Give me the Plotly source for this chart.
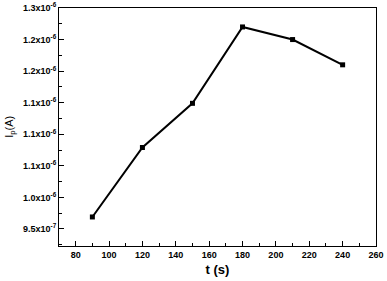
import plotly.graph_objects as go

t_values = [90, 120, 150, 180, 210, 240]
ip_values = [0.969e-6, 1.079e-6, 1.149e-6, 1.270e-6, 1.250e-6, 1.210e-6]

x_ticks = [80, 100, 120, 140, 160, 180, 200, 220, 240, 260]
y_tickvals = [0.95e-6, 1.0e-6, 1.05e-6, 1.1e-6, 1.15e-6, 1.2e-6, 1.25e-6, 1.3e-6]
y_ticktext = ["9.5x10<sup>-7</sup>", "1.0x10<sup>-6</sup>", "1.1x10<sup>-6</sup>", "1.1x10<sup>-6</sup>",
              "1.1x10<sup>-6</sup>", "1.2x10<sup>-6</sup>", "1.2x10<sup>-6</sup>", "1.3x10<sup>-6</sup>"]

fig = go.Figure()
fig.add_trace(go.Scatter(
    x=t_values, y=ip_values, mode="lines+markers",
    line=dict(color="black", width=2),
    marker=dict(symbol="square", size=5, color="black"),
    showlegend=False,
))

font_family = "Liberation Sans, Arial, sans-serif"
fig.update_layout(
    width=387, height=281,
    margin=dict(l=59, r=11, t=8, b=35),
    paper_bgcolor="white", plot_bgcolor="white",
    font=dict(family=font_family, color="black"),
    xaxis=dict(
        range=[70, 260], tickvals=x_ticks, ticktext=[f"<b>{v}</b>" for v in x_ticks],
        ticks="inside", ticklen=5, tickwidth=1, tickcolor="black",
        minor=dict(ticks="inside", ticklen=3, dtick=10, tick0=0, tickcolor="black"),
        showline=True, linecolor="black", linewidth=1, mirror=True,
        showgrid=False, zeroline=False, automargin=False,
        tickfont=dict(size=9, family=font_family),
        title=dict(text="<b>t (s)</b>", font=dict(size=13, family=font_family), standoff=6),
    ),
    yaxis=dict(
        range=[0.923e-6, 1.3e-6], tickvals=y_tickvals,
        ticktext=[f"<b>{s}</b>" for s in y_ticktext],
        ticks="inside", ticklen=5, tickwidth=1, tickcolor="black",
        minor=dict(ticks="inside", ticklen=3, dtick=0.025e-6, tick0=0, tickcolor="black"),
        showline=True, linecolor="black", linewidth=1, mirror=True,
        showgrid=False, zeroline=False, automargin=False,
        tickfont=dict(size=9, family=font_family),
    ),
    annotations=[dict(
        text="I<sub>p</sub>(A)", textangle=-90, xref="paper", yref="paper",
        x=-0.155, y=0.5, showarrow=False, xanchor="center", yanchor="middle",
        font=dict(size=11, family=font_family),
    )],
)

fig.write_html("out.html", config={"displayModeBar": False},
               post_script="document.body.style.margin='0';")
